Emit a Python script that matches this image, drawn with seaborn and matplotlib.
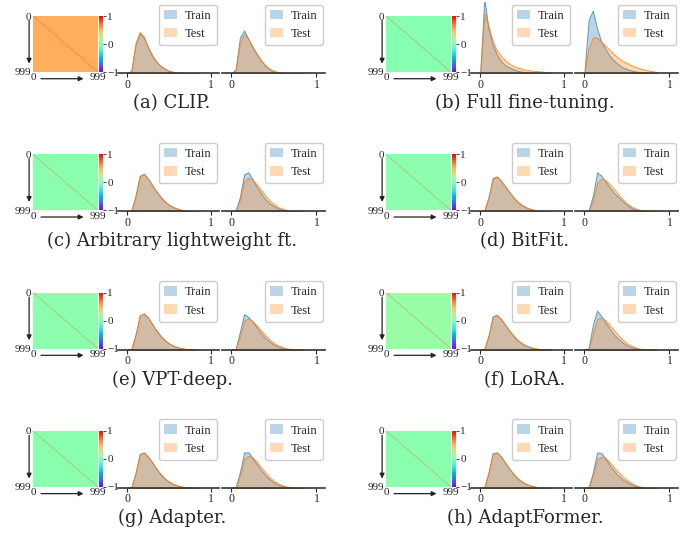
import numpy as np
import pandas as pd
import matplotlib.pyplot as plt
import seaborn as sns
from matplotlib.patches import Patch
from matplotlib.colors import to_rgba

# captions and mean off-diagonal value of each 1000x1000 similarity matrix (diagonal = 1)
captions = ["(a) CLIP.", "(b) Full fine-tuning.", "(c) Arbitrary lightweight ft.", "(d) BitFit.",
            "(e) VPT-deep.", "(f) LoRA.", "(g) Adapter.", "(h) AdaptFormer."]
offdiag = [0.52, 0.03, 0.04, 0.05, 0.05, 0.10, 0.04, 0.04]
diag_value = 1.0
n_classes = 1000

# histogram heights (fraction of axis height) at these bin centres
grid = [0.00, 0.05, 0.10, 0.15, 0.20, 0.25, 0.30, 0.35, 0.40, 0.45, 0.50, 0.55, 0.60, 0.65, 0.70, 0.75, 0.80, 0.85]

clip_train_1 = [0, .03, .40, .56, .50, .36, .24, .16, .10, .06, .03, .015, .006, .002, 0, 0, 0, 0]
clip_test_1 = [0, .03, .42, .58, .51, .37, .25, .16, .10, .06, .03, .015, .006, .002, 0, 0, 0, 0]
clip_train_2 = [0, .05, .50, .60, .48, .36, .26, .17, .10, .05, .025, .01, .004, 0, 0, 0, 0, 0]
clip_test_2 = [0, .04, .42, .55, .48, .37, .27, .18, .11, .06, .03, .012, .005, 0, 0, 0, 0, 0]

full_train_1 = [0, 1.05, .62, .40, .26, .17, .11, .08, .05, .03, .02, .012, .008, .005, .003, 0, 0, 0]
full_test_1 = [0, .84, .66, .45, .32, .24, .18, .13, .10, .075, .06, .045, .035, .03, .025, .018, .012, .006]
full_train_2 = [0, .75, .88, .62, .44, .33, .24, .17, .12, .08, .055, .035, .022, .014, .008, .004, .002, 0]
full_test_2 = [0, .35, .50, .50, .44, .38, .32, .26, .21, .17, .14, .11, .085, .065, .05, .035, .025, .015]

arb_train_1 = [0, .01, .22, .50, .53, .46, .37, .28, .20, .14, .09, .06, .035, .02, .01, .005, .002, 0]
arb_test_1 = [0, .01, .21, .49, .52, .46, .37, .28, .21, .14, .095, .06, .038, .022, .012, .006, .002, 0]
arb_train_2 = [0, .01, .20, .52, .55, .45, .34, .25, .17, .11, .07, .04, .02, .01, .005, 0, 0, 0]
arb_test_2 = [0, .01, .16, .42, .47, .44, .38, .30, .22, .15, .10, .06, .035, .02, .01, .005, 0, 0]

bit_train_1 = [0, .01, .20, .47, .49, .43, .35, .27, .19, .13, .085, .055, .033, .018, .009, .004, .001, 0]
bit_test_1 = [0, .01, .19, .46, .49, .43, .35, .27, .20, .135, .09, .058, .035, .02, .01, .005, .002, 0]
bit_train_2 = [0, .01, .22, .55, .50, .42, .33, .26, .20, .14, .09, .05, .025, .012, .005, 0, 0, 0]
bit_test_2 = [0, .01, .15, .40, .46, .44, .38, .31, .24, .17, .11, .07, .04, .02, .01, .004, 0, 0]

vpt_train_1 = [0, .01, .21, .48, .51, .45, .36, .27, .19, .13, .085, .055, .033, .018, .009, .004, .001, 0]
vpt_test_1 = [0, .01, .20, .48, .51, .45, .36, .27, .20, .135, .09, .057, .035, .02, .01, .005, .002, 0]
vpt_train_2 = [0, .01, .25, .50, .46, .39, .31, .23, .16, .11, .07, .04, .02, .01, .004, 0, 0, 0]
vpt_test_2 = [0, .01, .18, .41, .44, .40, .34, .27, .20, .14, .095, .06, .035, .018, .008, .003, 0, 0]

lora_train_1 = [0, .01, .20, .47, .49, .43, .35, .26, .19, .13, .085, .055, .033, .018, .009, .004, .001, 0]
lora_test_1 = [0, .01, .19, .46, .49, .43, .35, .27, .20, .135, .09, .057, .035, .02, .01, .005, .002, 0]
lora_train_2 = [0, .02, .35, .55, .47, .38, .29, .21, .15, .10, .06, .035, .018, .008, .003, 0, 0, 0]
lora_test_2 = [0, .01, .22, .43, .45, .41, .34, .27, .20, .14, .09, .055, .03, .015, .006, 0, 0, 0]

ad_train_1 = [0, .01, .21, .48, .50, .44, .36, .27, .19, .13, .085, .055, .033, .018, .009, .004, .001, 0]
ad_test_1 = [0, .01, .20, .47, .50, .44, .36, .27, .20, .135, .09, .057, .035, .02, .01, .005, .002, 0]
ad_train_2 = [0, .01, .22, .50, .50, .42, .33, .25, .18, .12, .075, .045, .025, .012, .005, 0, 0, 0]
ad_test_2 = [0, .01, .17, .40, .45, .43, .37, .29, .22, .15, .10, .062, .036, .02, .009, .003, 0, 0]

af_train_1 = [0, .01, .22, .49, .50, .44, .35, .27, .19, .13, .085, .055, .033, .018, .009, .004, .001, 0]
af_test_1 = [0, .01, .21, .48, .50, .44, .36, .27, .20, .135, .09, .057, .035, .02, .01, .005, .002, 0]
af_train_2 = [0, .01, .22, .50, .49, .41, .32, .24, .17, .12, .08, .05, .028, .014, .006, 0, 0, 0]
af_test_2 = [0, .01, .17, .40, .44, .42, .36, .29, .22, .16, .11, .07, .04, .02, .01, .004, 0, 0]

hists = [
    (clip_train_1, clip_test_1, clip_train_2, clip_test_2),
    (full_train_1, full_test_1, full_train_2, full_test_2),
    (arb_train_1, arb_test_1, arb_train_2, arb_test_2),
    (bit_train_1, bit_test_1, bit_train_2, bit_test_2),
    (vpt_train_1, vpt_test_1, vpt_train_2, vpt_test_2),
    (lora_train_1, lora_test_1, lora_train_2, lora_test_2),
    (ad_train_1, ad_test_1, ad_train_2, ad_test_2),
    (af_train_1, af_test_1, af_train_2, af_test_2),
]

sns.set_style("white")
plt.rcParams['font.family'] = ['Liberation Serif', 'DejaVu Serif']

W, H = 699, 544
fig = plt.figure(figsize=(W / 100, H / 100), dpi=100)
cmap = plt.get_cmap("rainbow")


def add_px(x0, y0, x1, y1):
    return fig.add_axes([x0 / W, 1 - y1 / H, (x1 - x0) / W, (y1 - y0) / H])


step = 0.05
edges = [g - step / 2 for g in grid] + [grid[-1] + step / 2]
legend_handles = [Patch(facecolor=to_rgba("C0", 0.3), edgecolor="none", label="Train"),
                  Patch(facecolor=to_rgba("C1", 0.3), edgecolor="none", label="Test")]


def draw_hist(ax, train, test):
    sns.histplot(x=grid, weights=train, bins=edges, element="poly", color="C0", alpha=0.3,
                 edgecolor=to_rgba("C0", 0.7), linewidth=0.7, ax=ax)
    sns.histplot(x=grid, weights=test, bins=edges, element="poly", color="C1", alpha=0.3,
                 edgecolor=to_rgba("C1", 0.8), linewidth=0.7, ax=ax)
    ax.set_xlim(-0.11, 1.1)
    ax.set_ylim(0, 1.0)
    ax.set_xticks([0, 1])
    ax.set_xticklabels(["0", "1"])
    ax.set_yticks([])
    ax.set_ylabel("")
    ax.set_xlabel("")
    for s in ["left", "right", "top"]:
        ax.spines[s].set_visible(False)
    ax.spines["bottom"].set_color("#333333")
    ax.spines["bottom"].set_linewidth(1.2)
    ax.tick_params(axis="x", length=3, width=0.8, pad=1, labelsize=8.5, bottom=True)
    ax.legend(handles=legend_handles, loc="upper right", fontsize=9, handlelength=1.1,
              handleheight=0.8, handletextpad=0.6, borderpad=0.4, labelspacing=0.5,
              borderaxespad=0.2, fancybox=True, edgecolor="#cccccc", framealpha=1)


for i in range(8):
    col, row = i % 2, i // 2
    dx = 353 * col
    b = 73 + 138.3 * row

    ax_cb = add_px(99 + dx, b - 57, 103 + dx, b - 1)
    ax_cb.patch.set_visible(False)
    ax_hm = add_px(33 + dx, b - 57, 98 + dx, b - 1)
    mat = np.full((n_classes, n_classes), offdiag[i])
    sns.heatmap(mat, ax=ax_hm, cbar_ax=ax_cb, cmap="rainbow", vmin=-1, vmax=1,
                xticklabels=False, yticklabels=False, cbar_kws={"ticks": [-1, 0, 1]},
                rasterized=True)
    # the diagonal (self-similarity) is thinner than a pixel; draw it as a faint line
    sns.lineplot(x=[0, n_classes], y=[0, n_classes], color=cmap((diag_value + 1) / 2),
                 alpha=0.25, linewidth=0.6, ax=ax_hm)
    ax_hm.set_xlim(0, n_classes)
    ax_hm.set_ylim(n_classes, 0)
    ax_hm.set_xticks([0.5, n_classes - 0.5])
    ax_hm.set_xticklabels(["0", "999"])
    ax_hm.set_yticks([0.5, n_classes - 0.5])
    ax_hm.set_yticklabels(["0", "999"], rotation=0)
    ax_hm.tick_params(length=0, pad=1, labelsize=8)
    ax_hm.annotate("", xy=(-0.06, 0.1), xytext=(-0.06, 0.97), xycoords="axes fraction",
                   arrowprops=dict(arrowstyle="-|>", lw=0.9, color="#222222", mutation_scale=7))
    ax_hm.annotate("", xy=(0.82, -0.12), xytext=(0.08, -0.12), xycoords="axes fraction",
                   arrowprops=dict(arrowstyle="-|>", lw=0.9, color="#222222", mutation_scale=7))
    ax_cb.tick_params(length=2, width=0.6, pad=1, labelsize=8)
    ax_cb.set_yticklabels(["\u22121", "0", "1"])

    tr1, te1, tr2, te2 = hists[i]
    draw_hist(add_px(118 + dx, b - 71, 219 + dx, b), tr1, te1)
    draw_hist(add_px(222 + dx, b - 71, 325 + dx, b), tr2, te2)

    fig.text((172 + dx) / W, 1 - (b + 30) / H, captions[i], ha="center", va="center",
             fontsize=13, family=["DejaVu Serif"])

fig.savefig("out.png", dpi=100)
